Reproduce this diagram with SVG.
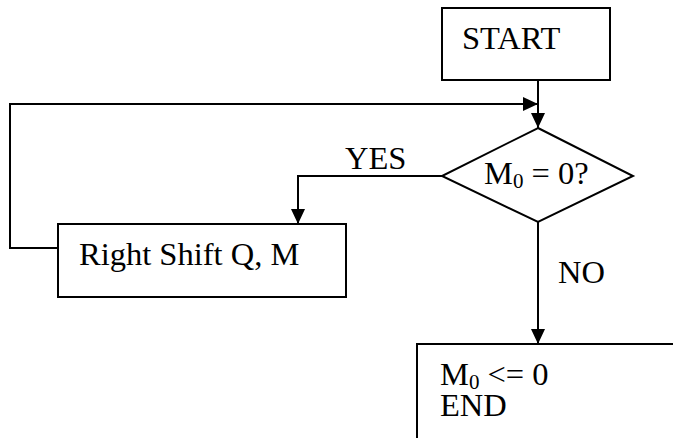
<svg xmlns="http://www.w3.org/2000/svg" width="673" height="438" viewBox="0 0 673 438">
  <defs>
    <marker id="arrow" markerWidth="16" markerHeight="16" refX="15" refY="7" orient="auto" markerUnits="userSpaceOnUse">
      <path d="M0,0 L15,7 L0,14 Z" fill="#000"/>
    </marker>
    <style>
      .box { fill: #fff; stroke: #000; stroke-width: 2; }
      .line { fill: none; stroke: #000; stroke-width: 2; }
      text { font-family: "Liberation Serif", "Times New Roman", serif; font-size: 32.5px; fill: #000; }
      .sub { font-size: 21px; }
    </style>
  </defs>
  <rect width="673" height="438" fill="#fff"/>

  <g id="connectors">
    <!-- start to decision -->
    <path class="line" d="M538,80 L538,128" marker-end="url(#arrow)"/>
    <!-- loop back from shift into decision input -->
    <path class="line" d="M58,248 L10,248 L10,104 L538,104" marker-end="url(#arrow)"/>
    <!-- YES branch -->
    <path class="line" d="M442,176 L298,176 L298,224" marker-end="url(#arrow)"/>
    <!-- NO branch -->
    <path class="line" d="M538,222 L538,344" marker-end="url(#arrow)"/>
    <text x="345" y="169">YES</text>
    <text x="558" y="283">NO</text>
  </g>

  <g id="start">
    <rect class="box" x="442" y="8" width="168" height="72"/>
    <text x="462" y="49">START</text>
  </g>

  <g id="decision">
    <polygon class="box" points="538,128 633,176 538,222 442,176"/>
    <text x="484" y="184">M<tspan class="sub" dy="4">0</tspan><tspan dy="-4"> = 0?</tspan></text>
  </g>

  <g id="shift">
    <rect class="box" x="58" y="224" width="288" height="73"/>
    <text x="79" y="265">Right Shift Q, M</text>
  </g>

  <g id="end">
    <rect class="box" x="417" y="344" width="270" height="110"/>
    <text x="440" y="385">M<tspan class="sub" dy="4">0</tspan><tspan dy="-4"> &lt;= 0</tspan></text>
    <text x="440" y="416">END</text>
  </g>
</svg>
